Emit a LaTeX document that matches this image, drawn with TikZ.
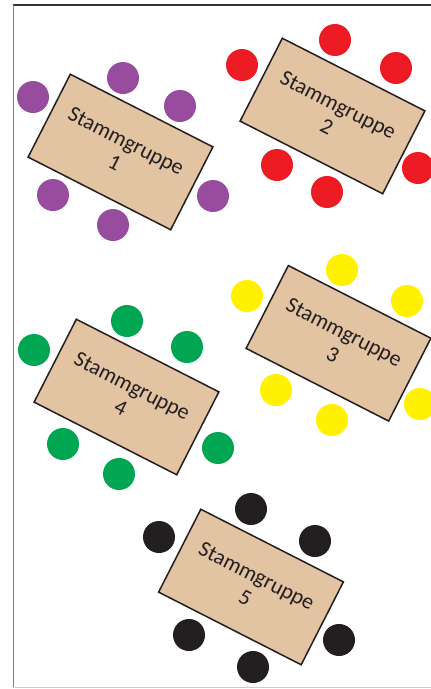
\documentclass[tikz,border=0pt]{standalone}
\usepackage{fontspec}
\setmainfont{Carlito}
\definecolor{tabletan}{HTML}{E2C3A2}
\definecolor{inkdark}{HTML}{231F20}
\definecolor{seatpurple}{HTML}{984C9D}
\definecolor{seatred}{HTML}{ED1C24}
\definecolor{seatyellow}{HTML}{FFF100}
\definecolor{seatgreen}{HTML}{00A651}
\definecolor{seatblack}{HTML}{231F20}
\tikzset{
  tablebox/.style={draw=inkdark, line width=1.5pt, fill=tabletan, rotate=-27,
    minimum width=160pt, minimum height=93pt, inner sep=0pt, align=center,
    text=inkdark, font=\fontsize{22}{25}\selectfont},
  seat/.style={circle, minimum size=32pt, inner sep=0pt, draw=none},
}
\begin{document}
\begin{tikzpicture}[x=1pt,y=-1pt]
\useasboundingbox (0,0) rectangle (431,689);
\fill[white] (0,0) rectangle (431,689);
% frame
\coordinate (ftl) at (13,5);
\coordinate (ftr) at (431,5);
\coordinate (fbl) at (13,687);
\coordinate (fbr) at (431,687);
\draw[color=black!80, line width=1.2pt] (ftl) -- (ftr);
\draw[color=black!50, line width=1pt] (ftl) -- (fbl);
\draw[color=black!20, line width=1pt] (fbl) -- (fbr);
% group 1
\node[tablebox] (t1) at (120.5,152) {Stammgruppe\\1};
\node[seat, fill=seatpurple] (p1) at (33,97) {};
\node[seat, fill=seatpurple] (p2) at (123,78) {};
\node[seat, fill=seatpurple] (p3) at (180,106) {};
\node[seat, fill=seatpurple] (p4) at (53,195) {};
\node[seat, fill=seatpurple] (p5) at (113,225) {};
\node[seat, fill=seatpurple] (p6) at (213,196) {};
% group 2
\node[tablebox] (t2) at (332.5,116) {Stammgruppe\\2};
\node[seat, fill=seatred] (r1) at (242,65) {};
\node[seat, fill=seatred] (r2) at (335,40) {};
\node[seat, fill=seatred] (r3) at (396,68) {};
\node[seat, fill=seatred] (r4) at (277,165) {};
\node[seat, fill=seatred] (r5) at (327,192) {};
\node[seat, fill=seatred] (r6) at (418,168) {};
% group 3
\node[tablebox] (t3) at (338.5,343.3) {Stammgruppe\\3};
\node[seat, fill=seatyellow] (y1) at (247,296) {};
\node[seat, fill=seatyellow] (y2) at (342,270) {};
\node[seat, fill=seatyellow] (y3) at (407,301) {};
\node[seat, fill=seatyellow] (y4) at (276,390) {};
\node[seat, fill=seatyellow] (y5) at (332,420) {};
\node[seat, fill=seatyellow] (y6) at (420,404) {};
% group 4
\node[tablebox] (t4) at (126.5,397) {Stammgruppe\\4};
\node[seat, fill=seatgreen] (g1) at (34,350) {};
\node[seat, fill=seatgreen] (g2) at (127,321) {};
\node[seat, fill=seatgreen] (g3) at (187,347) {};
\node[seat, fill=seatgreen] (g4) at (63,444) {};
\node[seat, fill=seatgreen] (g5) at (119,474) {};
\node[seat, fill=seatgreen] (g6) at (218,448) {};
% group 5
\node[tablebox] (t5) at (251,587) {Stammgruppe\\5};
\node[seat, fill=seatblack] (b1) at (159,537) {};
\node[seat, fill=seatblack] (b2) at (251,509) {};
\node[seat, fill=seatblack] (b3) at (315,541) {};
\node[seat, fill=seatblack] (b4) at (189,635) {};
\node[seat, fill=seatblack] (b5) at (253,667) {};
\node[seat, fill=seatblack] (b6) at (339,640) {};
\end{tikzpicture}
\end{document}
